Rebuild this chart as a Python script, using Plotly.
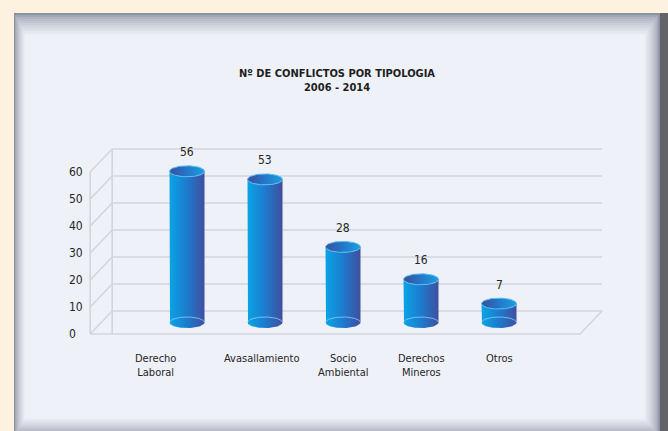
import numpy as np
import plotly.graph_objects as go

# ---------------- data ----------------
categories = ["Derecho<br>Laboral", "Avasallamiento", "Socio<br>Ambiental",
              "Derechos<br>Mineros", "Otros"]
values = [56, 53, 28, 16, 7]
tick_values = [0, 10, 20, 30, 40, 50, 60]
title_text = "Nº DE CONFLICTOS POR TIPOLOGIA<br>2006 - 2014"

# ---------------- geometry / style ----------------
W, H = 668, 431
L, R, T, B = 60, 40, 60, 41
PW, PH = W - L - R, H - T - B
PX_X = 78.0          # pixels per category step
PX_Y = 2.7           # pixels per value unit
FIRST_PX = 176       # front-plane pixel x of first category
ZERO_PX = 334        # front-plane pixel y of value 0
x_min = -(FIRST_PX - L) / PX_X
y_min = -((T + PH) - ZERO_PX) / PX_Y
x_range = [x_min, x_min + PW / PX_X]
y_range = [y_min, y_min + PH / PX_Y]

DX = 22 / PX_X       # depth offset (x units)
DY = 23 / PX_Y       # depth offset (y units)
n = len(values)
F_LEFT = -1.1
F_RIGHT = n - 1 + 1.18
HALF_W = 17.5 / PX_X
ELL = 5.5 / PX_Y

FONT = "Liberation Sans Narrow, DejaVu Sans Condensed, Arial Narrow, sans-serif"
TXT = "#262626"
GRID = "#d3d5dc"


def px2paper_x(px):
    return (px - L) / PW


def px2paper_y(py):
    return (T + PH - py) / PH


def mix(c1, c2, t):
    a = [int(c1[i:i + 2], 16) for i in (1, 3, 5)]
    b = [int(c2[i:i + 2], 16) for i in (1, 3, 5)]
    return "#%02x%02x%02x" % tuple(round(a[i] + (b[i] - a[i]) * t) for i in range(3))


shapes = []
# outer right dark shadow band
shapes.append(dict(type="rect", xref="paper", yref="paper", layer="below",
                   x0=px2paper_x(654), x1=px2paper_x(670),
                   y0=px2paper_y(13), y1=px2paper_y(440),
                   fillcolor="#636469", line=dict(width=0)))
# panel with inner shadow
N = 12
for k in range(N):
    t = (k / (N - 1)) ** 0.6
    col = mix("#8b91a0", "#eef1f8", t)
    shapes.append(dict(type="rect", xref="paper", yref="paper", layer="below",
                       x0=px2paper_x(14 + 1.0 * k), x1=px2paper_x(660 - 1.4 * k),
                       y0=px2paper_y(436 - 1.6 * k), y1=px2paper_y(13 + 2.0 * k),
                       fillcolor=col, line=dict(width=0)))


def seg(xa, ya, xb, yb):
    shapes.append(dict(type="line", xref="x", yref="y", layer="below",
                       x0=xa, y0=ya, x1=xb, y1=yb,
                       line=dict(color=GRID, width=1.6)))


# back wall gridlines and left wall diagonals
for tv in tick_values:
    seg(F_LEFT + DX, tv + DY, F_RIGHT + DX, tv + DY)
    seg(F_LEFT, tv, F_LEFT + DX, tv + DY)
# vertical edges of left wall
seg(F_LEFT, 0, F_LEFT, tick_values[-1])
seg(F_LEFT + DX, 0, F_LEFT + DX, tick_values[-1] + DY)
# floor
seg(F_LEFT, 0, F_RIGHT, 0)
seg(F_RIGHT, 0, F_RIGHT + DX, DY)

fig = go.Figure()

body_cs = [[0, "#0aa4e6"], [0.5, "#1d7bcd"], [1, "#404e9f"]]
top_cs = [[0, "#3a4f9f"], [0.5, "#2477c8"], [1, "#1ba0e0"]]

th_low = np.linspace(np.pi, 2 * np.pi, 40)
th_up = np.linspace(0, np.pi, 40)
th_full = np.linspace(0, 2 * np.pi, 80)

annotations = []
for i, v in enumerate(values):
    xc = i + DX / 2
    base = DY / 2
    top = v + DY / 2
    # body
    bx = [xc - HALF_W] + list(xc + HALF_W * np.cos(th_low)) + [xc + HALF_W] + \
         list(xc + HALF_W * np.cos(th_low[::-1]))
    by = [top] + list(base + ELL * np.sin(th_low)) + [top] + \
         list(top + ELL * np.sin(th_low[::-1]))
    fig.add_trace(go.Scatter(x=bx, y=by, mode="lines", fill="toself",
                             line=dict(width=0, color="#1a79cd"),
                             fillgradient=dict(type="horizontal", colorscale=body_cs),
                             hoverinfo="skip", showlegend=False))
    # faint back arc of bottom ellipse
    fig.add_trace(go.Scatter(x=xc + HALF_W * np.cos(th_up), y=base + ELL * np.sin(th_up),
                             mode="lines", line=dict(color="rgba(140,212,248,0.75)", width=1),
                             hoverinfo="skip", showlegend=False))
    # top ellipse
    fig.add_trace(go.Scatter(x=xc + HALF_W * np.cos(th_full), y=top + ELL * np.sin(th_full),
                             mode="lines", fill="toself",
                             line=dict(width=1, color="#5cbdf0"),
                             fillgradient=dict(type="horizontal", colorscale=top_cs),
                             hoverinfo="skip", showlegend=False))
    # value label
    annotations.append(dict(x=xc, y=top, xref="x", yref="y", text=str(v),
                            showarrow=False, yanchor="bottom", yshift=10,
                            font=dict(family=FONT, size=12, color=TXT)))

# category labels
label_shift = [-32, -3, 0, 0, 0]
for i, c in enumerate(categories):
    annotations.append(dict(x=i + DX / 2, y=px2paper_y(350), xref="x", yref="paper",
                            text=c, showarrow=False, yanchor="top", align="center",
                            xshift=label_shift[i],
                            font=dict(family=FONT, size=11, color=TXT)))

# title
annotations.append(dict(x=px2paper_x(337), y=px2paper_y(65), xref="paper", yref="paper",
                        text="<b>" + title_text.replace("<br>", "</b><br><b>") + "</b>",
                        showarrow=False, yanchor="top", align="center",
                        font=dict(family=FONT, size=11, color="#1e1e1e")))

fig.update_layout(
    width=W, height=H,
    margin=dict(l=L, r=R, t=T, b=B, pad=0),
    paper_bgcolor="#fdf1df",
    plot_bgcolor="rgba(0,0,0,0)",
    shapes=shapes,
    annotations=annotations,
    xaxis=dict(range=x_range, showgrid=False, zeroline=False, showticklabels=False,
               showline=False, fixedrange=True),
    yaxis=dict(range=y_range, showgrid=False, zeroline=False, showline=False,
               tickmode="array", tickvals=tick_values,
               ticktext=[str(t) for t in tick_values],
               ticklabelposition="inside", ticklabelstandoff=6, ticks="",
               tickfont=dict(family=FONT, size=12, color=TXT), fixedrange=True),
    showlegend=False,
)

fig.write_html("out.html", config={"displayModeBar": False},
               post_script="document.body.style.margin='0';document.body.style.overflow='hidden';")
